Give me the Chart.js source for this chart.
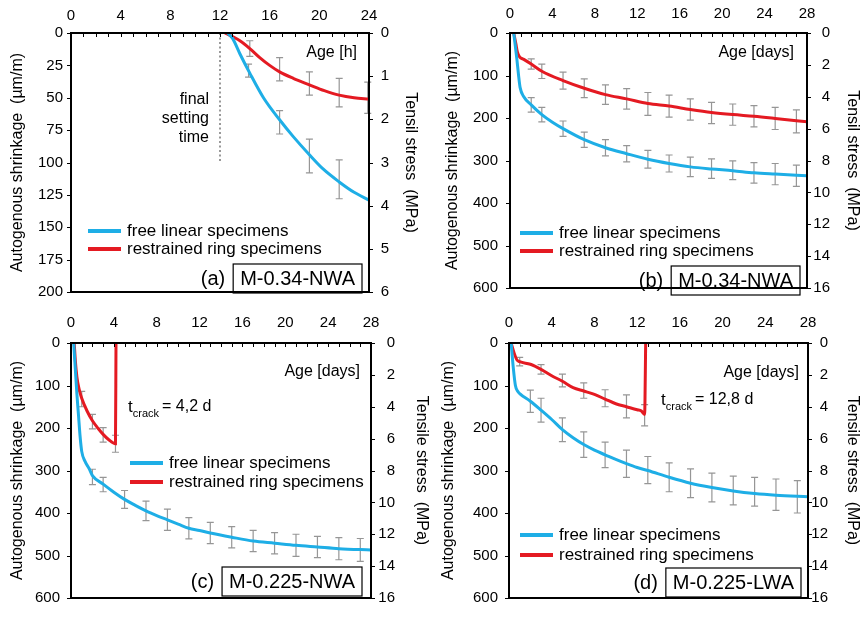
<!DOCTYPE html>
<html>
<head>
<meta charset="utf-8">
<script src="https://cdn.jsdelivr.net/npm/chart.js@4.4.0/dist/chart.umd.min.js"></script>
<style>
body { margin: 0; background: #fff; }
#wrap { position: relative; width: 862px; height: 618px; }
.panel { position: absolute; width: 431px; height: 309px; }
</style>
</head>
<body>
<div id="wrap">
  <div class="panel" style="left:0;top:0"><canvas id="chartA" width="431" height="309"></canvas></div>
  <div class="panel" style="left:431px;top:0"><canvas id="chartB" width="431" height="309"></canvas></div>
  <div class="panel" style="left:0;top:309px"><canvas id="chartC" width="431" height="309"></canvas></div>
  <div class="panel" style="left:431px;top:309px"><canvas id="chartD" width="431" height="309"></canvas></div>
</div>
<script>
"use strict";

/* (a) M-0.34-NWA, age in hours */
var ageA_free = [12.6, 13, 13.6, 14.4, 15.5, 16.8, 17.9, 19.2, 20.3, 21.6, 22.8, 24];
var shrA_free = [0, 4, 16, 31, 50, 67, 80, 94, 105, 115, 123, 129];
var ageA_ring = [12.4, 13.6, 14.4, 15.2, 16, 16.8, 17.9, 19.2, 20.4, 21.6, 22.8, 24];
var shrA_ring = [0, 6, 12, 19, 25, 30, 35, 40, 44.5, 48, 50, 51];
var barA_freeX = [14.3, 16.8, 19.2, 21.6];
var barA_freeY = [29, 69, 95, 113];
var barA_freeE = [5, 9, 13, 15];
var barA_ringX = [14.4, 16.8, 19.2, 21.6, 23.9];
var barA_ringY = [12, 28, 39, 46, 50];
var barA_ringE = [6, 9, 9, 11, 12];

/* (b) M-0.34-NWA, age in days */
var ageB_free = [0.35, 0.5, 0.65, 0.8, 0.95, 1.3, 2, 3, 4, 5, 7, 9, 11, 13, 15, 17, 19, 21, 23, 25, 28];
var shrB_free = [0, 30, 62, 98, 128, 150, 169, 192, 210, 225, 251, 270, 284, 297, 307, 315, 320, 324, 329, 332, 336];
var ageB_ring = [0.35, 0.55, 0.7, 0.9, 1.3, 2, 3, 5, 7, 9, 11, 13, 15, 17, 19, 21, 23, 25, 28];
var shrB_ring = [0, 25, 45, 56, 62, 73, 90, 112, 130, 145, 155, 166, 172, 180, 187, 192, 196, 201, 209];
var barB_x = [2, 3, 5, 7, 9, 11, 13, 15, 17, 19, 21, 23, 25, 27];
var barB_freeY = [169, 192, 225, 251, 270, 284, 297, 307, 315, 319, 323, 329, 332, 336];
var barB_freeE = [17, 17, 18, 18, 19, 19, 21, 20, 23, 23, 22, 24, 25, 25];
var barB_ringY = [73, 90, 112, 130, 145, 155, 167, 172, 180, 188, 192, 196, 201, 208];
var barB_ringE = [12, 17, 20, 22, 23, 24, 27, 26, 25, 25, 25, 25, 26, 27];

/* (c) M-0.225-NWA */
var ageC_free = [0.25, 0.4, 0.55, 0.7, 0.85, 1.0, 1.3, 1.7, 2, 3, 4, 5, 6, 7, 8, 9, 10, 11, 12, 13, 15, 17, 19, 21, 23, 25, 28];
var shrC_free = [0, 60, 120, 170, 220, 255, 278, 296, 312, 332, 351, 368, 382, 395, 406, 416, 426, 436, 441, 447, 457, 466, 471, 476, 480, 484, 487];
var ageC_ring = [0.3, 0.4, 0.55, 0.75, 1.0, 1.5, 2, 2.5, 3, 3.5, 4.15, 4.2];
var shrC_ring = [0, 40, 80, 108, 130, 160, 183, 200, 215, 227, 237, 0];
var barC_freeX = [2, 3, 5, 7, 9, 11, 13, 15, 17, 19, 21, 23, 25, 27];
var barC_freeY = [315, 333, 368, 395, 416, 436, 447, 457, 466, 471, 476, 480, 484, 487];
var barC_freeE = [18, 17, 21, 23, 25, 25, 25, 25, 25, 25, 26, 25, 26, 27];
var barC_ringX = [1, 2, 3, 4.15];
var barC_ringY = [132, 185, 216, 237];
var barC_ringE = [18, 17, 17, 20];

/* (d) M-0.225-LWA */
var ageD_free = [0.2, 0.4, 0.6, 0.8, 1, 2, 3, 4, 5, 6, 7, 8, 9, 10, 11, 12, 13, 15, 17, 19, 21, 23, 25, 28];
var shrD_free = [0, 58, 100, 113, 119, 137, 158, 180, 204, 223, 239, 252, 263, 274, 284, 293, 300, 316, 330, 340, 348, 354, 358, 362];
var ageD_ring = [0.2, 0.5, 0.75, 1, 2, 3, 4, 5, 6, 7, 8, 9, 10, 11, 12, 12.4, 12.7, 12.8];
var shrD_ring = [0, 25, 40, 44, 50, 62, 77, 90, 105, 113, 121, 132, 143, 150, 157, 160, 168, 0];
var barD_freeX = [2, 3, 5, 7, 9, 11, 13, 15, 17, 19, 21, 23, 25, 27];
var barD_freeY = [137, 158, 204, 239, 263, 284, 299, 316, 330, 340, 347, 350, 357, 362];
var barD_freeE = [26, 28, 28, 30, 30, 32, 32, 34, 34, 34, 34, 34, 37, 38];
var barD_ringX = [1, 3, 5, 7, 9, 11, 12.7];
var barD_ringY = [44, 62, 88, 112, 130, 149, 170];
var barD_ringE = [10, 11, 15, 18, 20, 27, 25];

var BLUE = 'rgb(30, 174, 230)';
var RED = 'rgb(228, 26, 34)';
var GREY = 'rgb(150, 150, 150)';
var FONT = "'Liberation Sans', Arial, sans-serif";

function xy(xs, ys) {
    return xs.map(function (x, i) { return { x: x, y: ys[i] }; });
}

/* error bars, frame, ticks, legend and labels */
var panelDecor = {
    id: 'panelDecor',
    beforeDatasetsDraw: function (chart, args, o) {
        var ctx = chart.ctx, sx = chart.scales.x, sy = chart.scales.y;
        ctx.save();
        ctx.strokeStyle = GREY;
        ctx.lineWidth = 1.2;
        o.bars.forEach(function (b) {
            b.x.forEach(function (xv, i) {
                var px = sx.getPixelForValue(xv);
                var p1 = sy.getPixelForValue(b.y[i] - b.e[i]);
                var p2 = sy.getPixelForValue(b.y[i] + b.e[i]);
                ctx.beginPath();
                ctx.moveTo(px, p1); ctx.lineTo(px, p2);
                ctx.moveTo(px - 3.5, p1); ctx.lineTo(px + 3.5, p1);
                ctx.moveTo(px - 3.5, p2); ctx.lineTo(px + 3.5, p2);
                ctx.stroke();
            });
        });
        if (o.setting) {
            var dx = sx.getPixelForValue(o.setting.x);
            ctx.strokeStyle = 'rgb(120,120,120)';
            ctx.lineWidth = 1.5;
            ctx.setLineDash([2, 2.5]);
            ctx.beginPath();
            ctx.moveTo(dx, sy.getPixelForValue(0));
            ctx.lineTo(dx, sy.getPixelForValue(o.setting.to));
            ctx.stroke();
            ctx.setLineDash([]);
        }
        ctx.restore();
    },
    afterDraw: function (chart, args, o) {
        var ctx = chart.ctx, a = chart.chartArea;
        var sx = chart.scales.x, sy = chart.scales.y, s2 = chart.scales.y2;
        ctx.save();
        ctx.strokeStyle = '#000';
        ctx.lineWidth = 1;
        var v, p;
        ctx.beginPath();
        for (v = 0; v <= sx.max; v += 1) {
            p = Math.round(sx.getPixelForValue(v)) + 0.5;
            ctx.moveTo(p, a.top); ctx.lineTo(p, a.top + 4);
        }
        for (v = 0; v <= sy.max; v += o.yStep) {
            p = Math.round(sy.getPixelForValue(v)) + 0.5;
            ctx.moveTo(a.left - 4, p); ctx.lineTo(a.left, p);
        }
        for (v = 0; v <= s2.max; v += o.sStep) {
            p = Math.round(s2.getPixelForValue(v)) + 0.5;
            ctx.moveTo(a.right, p); ctx.lineTo(a.right + 4, p);
        }
        ctx.stroke();
        ctx.lineWidth = 2;
        ctx.strokeRect(a.left, a.top, a.right - a.left, a.bottom - a.top);

        ctx.fillStyle = '#000';
        ctx.textBaseline = 'middle';
        /* right axis labels, right aligned */
        ctx.font = '15px ' + FONT;
        ctx.textAlign = 'right';
        s2.ticks.forEach(function (t) {
            ctx.fillText(String(t.value), a.right + o.rLab, s2.getPixelForValue(t.value));
        });
        /* legend */
        ctx.lineWidth = 4;
        [[BLUE, 'free linear specimens'], [RED, 'restrained ring specimens']].forEach(function (it, i) {
            var ly = o.legend.y + i * o.legend.gap;
            ctx.strokeStyle = it[0];
            ctx.beginPath();
            ctx.moveTo(o.legend.x, ly); ctx.lineTo(o.legend.x + 33, ly);
            ctx.stroke();
            ctx.font = '17px ' + FONT;
            ctx.textAlign = 'left';
            ctx.fillText(it[1], o.legend.x + 39, ly);
        });
        /* age label */
        ctx.font = '16px ' + FONT;
        ctx.textAlign = 'right';
        ctx.fillText(o.age.text, o.age.x, o.age.y);
        /* notes */
        (o.notes || []).forEach(function (n) {
            ctx.textAlign = 'right';
            ctx.fillText(n.text, n.x, n.y);
        });
        /* crack time */
        if (o.crack) {
            var cx = o.crack.x;
            ctx.textAlign = 'left';
            ctx.font = '17px ' + FONT;
            ctx.fillText('t', cx, o.crack.y);
            cx += ctx.measureText('t').width;
            ctx.font = '11px ' + FONT;
            ctx.fillText('crack', cx, o.crack.y + 7);
            cx += ctx.measureText('crack').width + 3;
            ctx.font = '16px ' + FONT;
            ctx.fillText('= ' + o.crack.text, cx, o.crack.y);
        }
        /* panel tag */
        ctx.font = '20px ' + FONT;
        var tw = ctx.measureText(o.tag.name).width;
        var bx = o.tag.right - tw - 14;
        ctx.lineWidth = 1.2;
        ctx.strokeStyle = '#000';
        ctx.strokeRect(bx, o.tag.top, tw + 14, 29);
        ctx.textAlign = 'left';
        ctx.fillText(o.tag.name, bx + 7, o.tag.top + 15);
        ctx.textAlign = 'right';
        ctx.fillText(o.tag.letter, bx - 8, o.tag.top + 15);
        ctx.restore();
    }
};

function buildPanel(id, p) {
    var tickFont = { family: FONT, size: 15 };
    var titleFont = { family: FONT, size: 16 };
    var noGrid = { display: false, drawTicks: false };
    return new Chart(document.getElementById(id).getContext('2d'), {
        type: 'line',
        data: {
            datasets: [{
                label: 'free linear specimens',
                data: p.free,
                borderColor: BLUE,
                borderWidth: 3,
                pointRadius: 0,
                cubicInterpolationMode: 'monotone',
                yAxisID: 'y'
            }, {
                label: 'restrained ring specimens',
                data: p.ring,
                borderColor: RED,
                borderWidth: 3,
                pointRadius: 0,
                cubicInterpolationMode: 'monotone',
                yAxisID: 'y'
            }]
        },
        options: {
            responsive: false,
            animation: false,
            layout: { padding: { left: 0, right: 0, top: 0, bottom: p.padBottom } },
            plugins: {
                legend: { display: false },
                tooltip: { enabled: false },
                panelDecor: p.decor
            },
            scales: {
                x: {
                    type: 'linear', position: 'top', min: 0, max: p.xMax,
                    ticks: { stepSize: 4, autoSkip: false, maxRotation: 0, padding: p.xPad, color: '#000', font: tickFont },
                    grid: noGrid, border: { display: false },
                    afterFit: function (s) { s.height = p.top; }
                },
                y: {
                    type: 'linear', position: 'left', reverse: true, min: 0, max: p.yMax,
                    ticks: { stepSize: p.decor.yStep, padding: p.lPad, color: '#000', font: tickFont },
                    grid: noGrid, border: { display: false },
                    title: { display: true, text: 'Autogenous shrinkage  (\u00b5m/m)', color: '#000', font: titleFont, padding: { top: p.lTitle, bottom: 0 } },
                    afterFit: function (s) { s.width = p.left; }
                },
                y2: {
                    type: 'linear', position: 'right', reverse: true, min: 0, max: p.sMax,
                    ticks: { display: false, stepSize: p.decor.sStep },
                    grid: noGrid, border: { display: false },
                    title: { display: true, text: p.sTitle, color: '#000', font: titleFont, padding: { top: p.rTitle, bottom: 0 } },
                    afterFit: function (s) { s.width = p.right; }
                }
            }
        },
        plugins: [panelDecor]
    });
}

document.addEventListener("DOMContentLoaded", function () {
    buildPanel('chartA', {
        free: xy(ageA_free, shrA_free), ring: xy(ageA_ring, shrA_ring),
        xMax: 24, yMax: 200, sMax: 6, top: 33, left: 71, right: 62, padBottom: 10,
        xPad: 8, lPad: 8, lTitle: 8, rTitle: 11, sTitle: 'Tensil stress  (MPa)',
        decor: {
            yStep: 25, sStep: 1, rLab: 20,
            bars: [{ x: barA_freeX, y: barA_freeY, e: barA_freeE }, { x: barA_ringX, y: barA_ringY, e: barA_ringE }],
            setting: { x: 12, to: 100 },
            legend: { x: 88, y: 231, gap: 18 },
            age: { text: 'Age [h]', x: 357, y: 53 },
            notes: [{ text: 'final', x: 209, y: 100 }, { text: 'setting', x: 209, y: 119 }, { text: 'time', x: 209, y: 138 }],
            tag: { letter: '(a)', name: 'M-0.34-NWA', right: 362, top: 264 }
        }
    });
    buildPanel('chartB', {
        free: xy(ageB_free, shrB_free), ring: xy(ageB_ring, shrB_ring),
        xMax: 28, yMax: 600, sMax: 16, top: 33, left: 79, right: 55, padBottom: 12,
        xPad: 10, lPad: 12, lTitle: 12, rTitle: 0, sTitle: 'Tensil stress  (MPa)',
        decor: {
            yStep: 100, sStep: 2, rLab: 23,
            bars: [{ x: barB_x, y: barB_freeY, e: barB_freeE }, { x: barB_x, y: barB_ringY, e: barB_ringE }],
            legend: { x: 89, y: 233, gap: 18 },
            age: { text: 'Age [days]', x: 363, y: 53 },
            tag: { letter: '(b)', name: 'M-0.34-NWA', right: 369, top: 266 }
        }
    });
    buildPanel('chartC', {
        free: xy(ageC_free, shrC_free), ring: xy(ageC_ring, shrC_ring),
        xMax: 28, yMax: 600, sMax: 16, top: 34, left: 71, right: 60, padBottom: 12,
        xPad: 11, lPad: 11, lTitle: 8, rTitle: 0, sTitle: 'Tensile stress  (MPa)',
        decor: {
            yStep: 100, sStep: 2, rLab: 24,
            bars: [{ x: barC_freeX, y: barC_freeY, e: barC_freeE }, { x: barC_ringX, y: barC_ringY, e: barC_ringE }],
            legend: { x: 130, y: 154, gap: 19 },
            age: { text: 'Age [days]', x: 360, y: 63 },
            crack: { text: '4,2 d', x: 128, y: 98 },
            tag: { letter: '(c)', name: 'M-0.225-NWA', right: 362, top: 258 }
        }
    });
    buildPanel('chartD', {
        free: xy(ageD_free, shrD_free), ring: xy(ageD_ring, shrD_ring),
        xMax: 28, yMax: 600, sMax: 16, top: 34, left: 78, right: 54, padBottom: 12,
        xPad: 11, lPad: 11, lTitle: 8, rTitle: 0, sTitle: 'Tensile stress  (MPa)',
        decor: {
            yStep: 100, sStep: 2, rLab: 20,
            bars: [{ x: barD_freeX, y: barD_freeY, e: barD_freeE }, { x: barD_ringX, y: barD_ringY, e: barD_ringE }],
            legend: { x: 89, y: 226, gap: 20 },
            age: { text: 'Age [days]', x: 368, y: 64 },
            crack: { text: '12,8 d', x: 230, y: 91 },
            tag: { letter: '(d)', name: 'M-0.225-LWA', right: 370, top: 259 }
        }
    });
});
</script>
</body>
</html>
